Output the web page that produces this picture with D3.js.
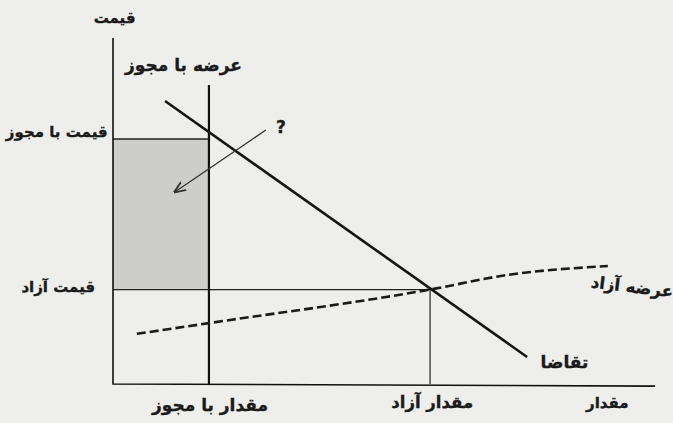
<!DOCTYPE html>
<html>
<head>
<meta charset="utf-8">
<script src="https://cdn.jsdelivr.net/npm/d3@7"></script>
<style>
  body { margin: 0; background: #eeeeec; }
  svg { display: block; }
  text { font-family: "DejaVu Sans", sans-serif; font-weight: bold; fill: #1a1a1a; stroke: #1a1a1a; stroke-width: 0.35; }
</style>
</head>
<body>
<svg width="673" height="423"></svg>
<script>
// values on a 0-100 price / quantity scale
const qLicensed = 17.7;
const qFree = 58.5;
const pLicensed = 70.8;
const pFree = 27.3;
const licensedTop = 86.4;
const demand = [[9.6, 81.8], [76.4, 7.8]];
const freeSupply = [[4.4, 14.5], [17.7, 17.6], [58.5, 27.3], [72.7, 31.5], [91.3, 34.1]];
const arrowPts = [[28.2, 73.4], [11.4, 55.5]];

const svg = d3.select("svg");
const x = d3.scaleLinear().domain([0, 100]).range([113, 655]);
const y = d3.scaleLinear().domain([0, 100]).range([384, 38]);

svg.append("defs").append("marker")
    .attr("id", "head")
    .attr("viewBox", "0 0 10 10")
    .attr("refX", 9).attr("refY", 5)
    .attr("markerWidth", 12).attr("markerHeight", 12)
    .attr("markerUnits", "userSpaceOnUse")
    .attr("orient", "auto")
  .append("path")
    .attr("d", "M0,1 L10,5 L0,9")
    .attr("fill", "none")
    .attr("stroke", "#333")
    .attr("stroke-width", 1.6);

// shaded area (licence rent)
svg.append("rect")
    .attr("x", x(0))
    .attr("y", y(pLicensed))
    .attr("width", x(qLicensed) - x(0))
    .attr("height", y(pFree) - y(pLicensed))
    .attr("fill", "#cdcdcb");

const line = d3.line().x(d => x(d[0])).y(d => y(d[1]));

// price lines
svg.append("path")
    .attr("d", line([[0, pLicensed], [qLicensed, pLicensed]]))
    .attr("stroke", "#222").attr("stroke-width", 1.4).attr("fill", "none");
svg.append("path")
    .attr("d", line([[0, pFree], [qFree, pFree]]))
    .attr("stroke", "#222").attr("stroke-width", 1.3).attr("fill", "none");
svg.append("path")
    .attr("d", line([[qFree, pFree], [qFree, 0]]))
    .attr("stroke", "#222").attr("stroke-width", 1.2).attr("fill", "none");

// licensed supply
svg.append("path")
    .attr("d", line([[qLicensed, licensedTop], [qLicensed, 0]]))
    .attr("stroke", "#111").attr("stroke-width", 2.2).attr("fill", "none");

// free supply (dashed)
svg.append("path")
    .attr("d", d3.line().x(d => x(d[0])).y(d => y(d[1])).curve(d3.curveMonotoneX)(freeSupply))
    .attr("stroke", "#1a1a1a").attr("stroke-width", 2.6)
    .attr("stroke-dasharray", "9,4").attr("fill", "none");

// demand
svg.append("path")
    .attr("d", line(demand))
    .attr("stroke", "#151515").attr("stroke-width", 2.6).attr("fill", "none");

// axes
svg.append("path")
    .attr("d", line([[0, 100], [0, 0], [100, -0.6]]))
    .attr("stroke", "#111").attr("stroke-width", 1.6).attr("fill", "none");

// arrow
svg.append("path")
    .attr("d", line(arrowPts))
    .attr("stroke", "#333").attr("stroke-width", 1.3)
    .attr("marker-end", "url(#head)");

const labels = [
  { t: "قیمت", px: 0.3, py: 105.5, a: "middle", s: 15, r: 0 },
  { t: "عرضه با مجوز", px: 13, py: 92, a: "middle", s: 17, r: 0 },
  { t: "قیمت با مجوز", px: -1, py: 72.8, a: "end", s: 15, r: 0 },
  { t: "قیمت آزاد", px: -3.3, py: 28, a: "end", s: 15, r: 0 },
  { t: "?", px: 31, py: 74, a: "middle", s: 17, r: 0 },
  { t: "عرضه آزاد", px: 103.3, py: 26.3, a: "end", s: 16.5, r: 7 },
  { t: "تقاضا", px: 83.3, py: 6, a: "middle", s: 17, r: 0 },
  { t: "مقدار با مجوز", px: 17.9, py: -6.4, a: "middle", s: 17, r: 0 },
  { t: "مقدار آزاد", px: 58.9, py: -5.5, a: "middle", s: 16.5, r: 0 },
  { t: "مقدار", px: 91.2, py: -5.5, a: "middle", s: 15, r: 0 }
];

svg.selectAll("text.lbl")
  .data(labels)
  .enter().append("text")
    .attr("class", "lbl")
    .attr("x", d => x(d.px))
    .attr("y", d => y(d.py))
    .attr("transform", d => `rotate(${d.r},${x(d.px)},${y(d.py)})`)
    .attr("text-anchor", d => d.a)
    .attr("dominant-baseline", "middle")
    .attr("font-size", d => d.s)
    .text(d => d.t);
</script>
</body>
</html>
